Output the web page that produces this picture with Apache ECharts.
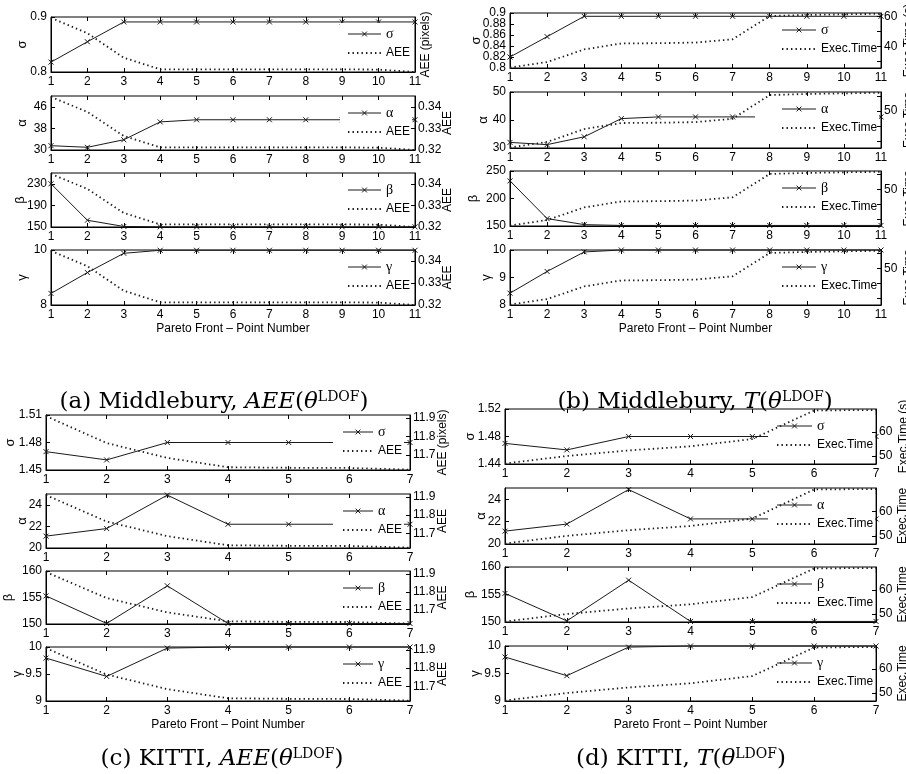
<!DOCTYPE html>
<html>
<head>
<meta charset="utf-8">
<script src="https://cdn.jsdelivr.net/npm/echarts@6/dist/echarts.min.js"></script>
<style>
html,body{margin:0;padding:0;background:#fff}
#chart{width:906px;height:774px}
</style>
</head>
<body>
<div id="chart"></div>
<script>
// Pareto front point numbers
const pointsMiddlebury = [1, 2, 3, 4, 5, 6, 7, 8, 9, 10, 11];
const pointsKitti = [1, 2, 3, 4, 5, 6, 7];

// Parameter names and the two objectives
const paramNames = ['σ', 'α', 'β', 'γ'];
const aeeName = 'AEE';
const timeName = 'Exec.Time';
const xAxisTitle = 'Pareto Front – Point Number';

// (a) Middlebury, AEE objective
const sigmaMidAee = [0.818, 0.855, 0.891, 0.891, 0.891, 0.891, 0.891, 0.891, 0.891, 0.891, 0.891];
const alphaMidAee = [31.6, 31.0, 33.8, 40.4, 41.2, 41.2, 41.2, 41.2, 41.2, 41.2, 41.2];
const betaMidAee = [230, 162.5, 151, 150.3, 150.3, 150.3, 150.3, 150.3, 150.3, 150.3, 150.3];
const gammaMidAee = [8.42, 9.18, 9.88, 9.99, 9.99, 9.99, 9.99, 9.99, 9.99, 9.99, 9.99];
const aeeMidAee = [0.3446, 0.3376, 0.3265, 0.3212, 0.3212, 0.3212, 0.3212, 0.3212, 0.3212, 0.3211, 0.3200];

// (b) Middlebury, execution-time objective
const sigmaMidTime = [0.820, 0.857, 0.894, 0.894, 0.894, 0.894, 0.894, 0.894, 0.894, 0.894, 0.894];
const alphaMidTime = [32.0, 31.2, 34.0, 40.5, 41.1, 41.1, 41.1, 41.1, 41.1, 41.1, 41.1];
const betaMidTime = [232, 163.5, 152.5, 151, 151, 151, 151, 151, 151, 151, 151];
const gammaMidTime = [8.43, 9.22, 9.93, 10, 10, 10, 10, 10, 10, 10, 10];
const timeMidTime = [25.8, 29.5, 38.0, 42.0, 42.2, 42.6, 44.8, 60.5, 61.2, 61.6, 62.0];

// (c) KITTI, AEE objective
const sigmaKitAee = [1.470, 1.461, 1.480, 1.480, 1.480, 1.480, 1.480];
const alphaKitAee = [21.1, 21.8, 24.9, 22.2, 22.2, 22.2, 22.2];
const betaKitAee = [155.3, 150.1, 157.2, 150.1, 150.1, 150.1, 150.1];
const gammaKitAee = [9.795, 9.455, 9.98, 10, 10, 10, 10];
const aeeKitAee = [11.910, 11.765, 11.685, 11.635, 11.632, 11.631, 11.622];

// (d) KITTI, execution-time objective
const sigmaKitTime = [1.470, 1.4605, 1.480, 1.480, 1.480, 1.480, 1.480];
const alphaKitTime = [21.15, 21.78, 24.86, 22.24, 22.24, 22.24, 22.24];
const betaKitTime = [155.2, 150.2, 157.6, 150.1, 150.1, 150.1, 150.1];
const gammaKitTime = [9.8, 9.46, 9.98, 10, 10, 10, 10];
const timeKitTime = [46.9, 50.0, 52.3, 54.0, 57.0, 68.8, 69.0];

// Tick values (the dense σ ticks are listed end-first so that the
// min/max label check never compares two neighbouring labels)
const leftTicksMidAee = [[0.8, 0.9], [30, 38, 46], [150, 190, 230], [8, 10]];
const leftTicksMidTime = [[0.84, 0.8, 0.82, 0.88, 0.86, 0.9], [30, 40, 50], [150, 200, 250], [8, 9, 10]];
const leftTicksKitAee = [[1.45, 1.48, 1.51], [20, 22, 24], [150, 155, 160], [9, 9.5, 10]];
const leftTicksKitTime = [[1.44, 1.48, 1.52], [20, 22, 24], [150, 155, 160], [9, 9.5, 10]];
const rightTicksMidAee = [0.32, 0.33, 0.34];
const rightTicksMidTime = [30, 40, 50, 60];
const rightLabelsMidTimeTop = [40, 60];
const rightLabelsMidTime = [50];
const rightTicksKitAee = [11.7, 11.8, 11.9];
const rightTicksKitTime = [50, 60];

const INK = '#1a1a1a';
const SANS = "'Liberation Sans', Arial, Helvetica, sans-serif";
const SERIF = "'DejaVu Serif', 'Liberation Serif', serif";
const X_MARK = 'path://M0 0L10 10M10 0L0 10';
const CLEAR = 'rgba(0,0,0,0)';

const fmt = v => String(Math.round(v * 10000) / 10000);

const panels = [
  {
    xs: pointsMiddlebury, left: 51, width: 364,
    rows: [[17, 72], [96, 150], [173, 227], [250, 305]],
    params: [sigmaMidAee, alphaMidAee, betaMidAee, gammaMidAee],
    leftRange: [[0.8, 0.9], [30, 50], [150, 250], [8, 10]],
    leftTicks: leftTicksMidAee, leftGap: [29, 29, 31, 29],
    second: aeeMidAee, secondName: aeeName, rightRange: [0.32, 0.345],
    rightTicks: [[], rightTicksMidAee, rightTicksMidAee, rightTicksMidAee],
    rightLabels: [[], rightTicksMidAee, rightTicksMidAee, rightTicksMidAee],
    rightTitles: ['AEE (pixels)', 'AEE', 'AEE', 'AEE'], rightGap: [11, 33, 33, 33],
    legendLeft: 340, legendPad: 7, iconW: 33,
    caption: { x: 214, y: 400, text: '{r|(a) Middlebury, }{i|AEE}{r|(}{i|θ}{s|LDOF}{r|)}' }
  },
  {
    xs: pointsMiddlebury, left: 510, width: 371,
    rows: [[13, 68], [92, 148], [171, 226], [250, 305]],
    params: [sigmaMidTime, alphaMidTime, betaMidTime, gammaMidTime],
    leftRange: [[0.8, 0.9], [30, 50], [150, 250], [8, 10]],
    leftTicks: leftTicksMidTime, leftGap: [34, 27, 37, 24],
    second: timeMidTime, secondName: timeName, rightRange: [25.5, 62.5],
    rightTicks: [rightTicksMidTime, rightTicksMidTime, rightTicksMidTime, rightTicksMidTime],
    rightLabels: [rightLabelsMidTimeTop, rightLabelsMidTime, rightLabelsMidTime, rightLabelsMidTime],
    rightTitles: ['Exec.Time (s)', 'Exec.Time', 'Exec.Time', 'Exec.Time'], rightGap: [28, 28, 28, 28],
    legendLeft: 755, legendPad: 26, iconW: 34,
    caption: { x: 695, y: 400, text: '{r|(b) Middlebury, }{i|T}{r|(}{i|θ}{s|LDOF}{r|)}' }
  },
  {
    xs: pointsKitti, left: 46, width: 364,
    rows: [[415, 470], [494, 548], [571, 624], [647, 701]],
    params: [sigmaKitAee, alphaKitAee, betaKitAee, gammaKitAee],
    leftRange: [[1.45, 1.51], [20, 25], [150, 160], [9, 10]],
    leftTicks: leftTicksKitAee, leftGap: [36, 24, 38, 29],
    second: aeeKitAee, secondName: aeeName, rightRange: [11.62, 11.916],
    rightTicks: [rightTicksKitAee, rightTicksKitAee, rightTicksKitAee, rightTicksKitAee],
    rightLabels: [rightTicksKitAee, rightTicksKitAee, rightTicksKitAee, rightTicksKitAee],
    rightTitles: ['AEE (pixels)', 'AEE', 'AEE', 'AEE'], rightGap: [33, 33, 33, 33],
    legendLeft: 333, legendPad: 9, iconW: 30,
    caption: { x: 222, y: 757, text: '{r|(c) KITTI, }{i|AEE}{r|(}{i|θ}{s|LDOF}{r|)}' }
  },
  {
    xs: pointsKitti, left: 505, width: 371,
    rows: [[409, 464], [488, 544], [567, 622], [646, 701]],
    params: [sigmaKitTime, alphaKitTime, betaKitTime, gammaKitTime],
    leftRange: [[1.44, 1.52], [20, 25], [150, 160], [9, 10]],
    leftTicks: leftTicksKitTime, leftGap: [35, 24, 35, 30],
    second: timeKitTime, secondName: timeName, rightRange: [46.7, 69.4],
    rightTicks: [rightTicksKitTime, rightTicksKitTime, rightTicksKitTime, rightTicksKitTime],
    rightLabels: [rightTicksKitTime, rightTicksKitTime, rightTicksKitTime, rightTicksKitTime],
    rightTitles: ['Exec.Time (s)', 'Exec.Time', 'Exec.Time', 'Exec.Time'], rightGap: [28, 27, 27, 27],
    legendLeft: 768, legendPad: 8, iconW: 35,
    caption: { x: 681, y: 757, text: '{r|(d) KITTI, }{i|T}{r|(}{i|θ}{s|LDOF}{r|)}' }
  }
];

const grid = [], xAxis = [], yAxis = [], series = [], legend = [], graphic = [];

const labelStyle = { color: '#000', fontSize: 12, fontFamily: SANS };
const tickStyle = { color: '#000', width: 1 };
const labelRules = { interval: 0, showMinLabel: true, showMaxLabel: true, hideOverlap: false };

panels.forEach(p => {
  const n = p.xs.length;
  p.rows.forEach((row, k) => {
    const g = grid.length;
    grid.push({
      left: p.left, top: row[0], width: p.width, height: row[1] - row[0],
      show: true, borderColor: '#000', borderWidth: 1, backgroundColor: '#fff',
      outerBoundsMode: 'none'
    });
    const bottomAxis = {
      gridIndex: g, type: 'value', position: 'bottom', min: 1, max: n, interval: 1,
      axisLine: { show: true, onZero: false, lineStyle: tickStyle },
      axisTick: { show: true, inside: true, length: 4, lineStyle: tickStyle },
      axisLabel: Object.assign({ margin: 4, formatter: fmt }, labelRules, labelStyle),
      splitLine: { show: false }, nameMoveOverlap: false
    };
    if (k === 3) {
      Object.assign(bottomAxis, {
        name: xAxisTitle, nameLocation: 'middle', nameGap: 18,
        nameTextStyle: { color: '#000', fontSize: 12, fontFamily: SANS }
      });
    }
    xAxis.push(bottomAxis);
    xAxis.push({
      gridIndex: g, type: 'value', position: 'top', min: 1, max: n, interval: 1,
      axisLine: { show: false, onZero: false },
      axisTick: { show: true, inside: true, length: 4, lineStyle: tickStyle },
      axisLabel: { show: false }, splitLine: { show: false }
    });
    const lt = p.leftTicks[k];
    yAxis.push({
      gridIndex: g, type: 'value', position: 'left',
      min: p.leftRange[k][0], max: p.leftRange[k][1],
      axisLine: { show: true, onZero: false, lineStyle: tickStyle },
      axisTick: { show: true, inside: true, length: 4, interval: 0, customValues: lt, lineStyle: tickStyle },
      axisLabel: Object.assign({ margin: 4, customValues: lt, formatter: fmt, lineHeight: 10 }, labelRules, labelStyle),
      splitLine: { show: false },
      name: paramNames[k], nameLocation: 'middle', nameGap: p.leftGap[k], nameRotate: 90,
      nameMoveOverlap: false,
      nameTextStyle: { color: '#000', fontSize: 13, fontFamily: SANS, verticalAlign: 'middle' }
    });
    const rt = p.rightTicks[k], rl = p.rightLabels[k];
    yAxis.push({
      gridIndex: g, type: 'value', position: 'right', z: 4,
      min: p.rightRange[0], max: p.rightRange[1],
      axisLine: { show: true, onZero: false, lineStyle: tickStyle },
      axisTick: { show: rt.length > 0, inside: true, length: 4, interval: 0, customValues: rt.length ? rt : [p.rightRange[0]], lineStyle: tickStyle },
      axisLabel: Object.assign({ show: rl.length > 0, margin: 3, customValues: rl.length ? rl : [p.rightRange[0]],
        formatter: fmt, lineHeight: 10 }, labelRules, labelStyle),
      splitLine: { show: false },
      name: p.rightTitles[k], nameLocation: 'middle', nameGap: p.rightGap[k], nameRotate: 90,
      nameMoveOverlap: false,
      nameTextStyle: { color: '#000', fontSize: 12, fontFamily: SANS, verticalAlign: 'middle' }
    });
    series.push({
      type: 'line', name: paramNames[k], xAxisIndex: 2 * g, yAxisIndex: 2 * g,
      data: p.xs.map((x, j) => [x, p.params[k][j]]),
      symbol: X_MARK, symbolSize: 5, clip: false,
      lineStyle: { color: INK, width: 1 },
      itemStyle: { color: CLEAR, borderColor: INK, borderWidth: 1 },
      z: 1, silent: true, animation: false
    });
    series.push({
      type: 'line', name: p.secondName, xAxisIndex: 2 * g + 1, yAxisIndex: 2 * g + 1,
      data: p.xs.map((x, j) => [x, p.second[j]]),
      symbol: 'none', clip: false,
      lineStyle: { color: INK, width: 1.8, type: [1.4, 3.1] },
      itemStyle: { color: CLEAR, borderColor: CLEAR },
      z: 3, silent: true, animation: false
    });
    legend.push({
      orient: 'vertical', left: p.legendLeft, top: row[0] + 6,
      data: [
        { name: paramNames[k], lineStyle: { width: 1, color: INK }, itemStyle: { color: CLEAR, borderColor: INK, borderWidth: 1 } },
        { name: p.secondName }
      ],
      itemWidth: p.iconW, itemHeight: 6, itemGap: 5,
      padding: [4, 2, 3, p.legendPad],
      backgroundColor: '#fff', borderWidth: 0, z: 2,
      selectedMode: false,
      formatter: name => (paramNames.includes(name) ? '{g|' + name + '}' : name),
      textStyle: {
        color: '#000', fontSize: 12, fontFamily: SANS, lineHeight: 14,
        rich: { g: { fontFamily: "'Liberation Serif', serif", fontSize: 14, color: '#000' } }
      }
    });
  });
  graphic.push({
    type: 'text', x: p.caption.x, y: p.caption.y + 2, silent: true,
    style: {
      text: p.caption.text, align: 'center', verticalAlign: 'middle',
      fill: '#000', fontFamily: SERIF, fontSize: 23,
      rich: {
        r: { fontFamily: SERIF, fontSize: 23, fill: '#000' },
        i: { fontFamily: SERIF, fontSize: 23, fontStyle: 'italic', fill: '#000' },
        s: { fontFamily: SERIF, fontSize: 14, fill: '#000', verticalAlign: 'top', padding: [0, 0, 10, 0] }
      }
    }
  });
});

const chart = echarts.init(document.getElementById('chart'), null, { renderer: 'canvas' });
chart.setOption({
  animation: false,
  backgroundColor: '#fff',
  grid, xAxis, yAxis, series, legend, graphic
});
</script>
</body>
</html>
